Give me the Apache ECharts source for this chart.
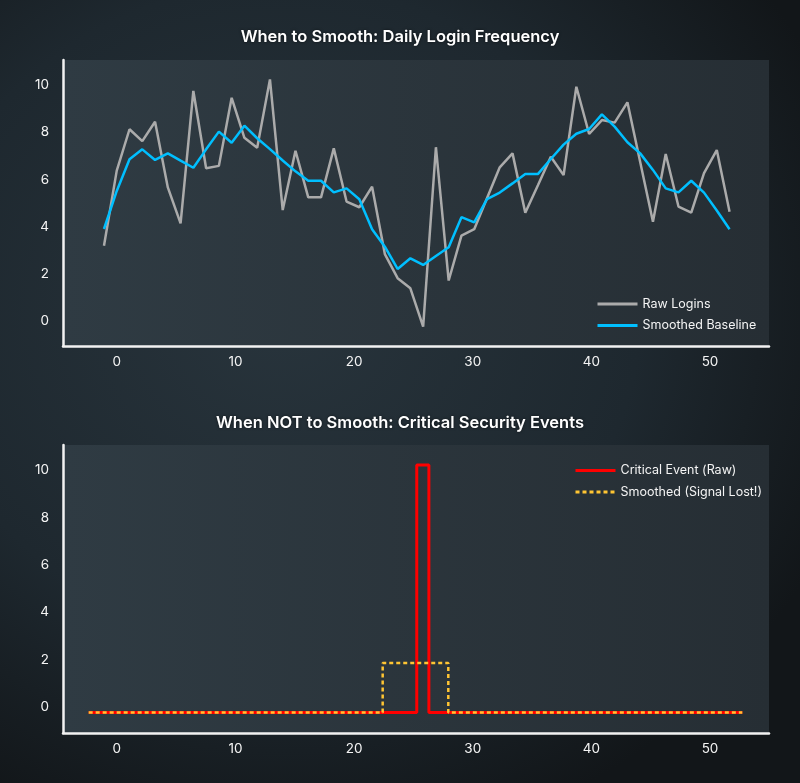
<!DOCTYPE html>
<html>
<head>
<meta http-equiv="Content-Type" content="text/html; charset=utf-8" />
<title>when to smooth</title>
<script type="text/javascript" src="https://cdn.jsdelivr.net/npm/echarts@6/dist/echarts.min.js"></script>
<style>
html, body { margin: 0; padding: 0; }
body {
    width: 800px; height: 783px; overflow: hidden;
    background: radial-gradient(ellipse 75% 70% at 35% 40%, #28343c 0%, #1e282f 60%, #121619 100%);
}
#main { width: 800px; height: 783px; }
</style>
</head>
<body>
<div id="main"></div>
<script type="text/javascript">
// daily logins, one value per day (day 0..49)
var rawLogins = [
    3.20, 6.38, 8.13, 7.63, 8.45, 5.67, 4.15, 9.75, 6.48, 6.58,
    9.46, 7.77, 7.35, 10.24, 4.71, 7.22, 5.25, 5.25, 7.32, 5.07,
    4.83, 5.70, 2.85, 1.83, 1.40, -0.22, 7.37, 1.73, 3.63, 3.90,
    5.21, 6.52, 7.11, 4.60, 5.77, 6.97, 6.19, 9.93, 7.93, 8.52,
    8.41, 9.27, 6.74, 4.22, 7.08, 4.86, 4.60, 6.27, 7.25, 4.64
];
var smoothedBaseline = [
    3.91, 5.52, 6.86, 7.28, 6.83, 7.11, 6.80, 6.50, 7.28, 8.03,
    7.56, 8.28, 7.75, 7.29, 6.81, 6.35, 5.95, 5.95, 5.46, 5.63,
    5.17, 3.90, 3.16, 2.22, 2.67, 2.39, 2.77, 3.14, 4.41, 4.19,
    5.17, 5.45, 5.84, 6.24, 6.24, 6.87, 7.48, 7.94, 8.14, 8.76,
    8.24, 7.58, 7.11, 6.41, 5.63, 5.46, 5.95, 5.45, 4.69, 3.90
];

// security events: break points of the step lines (day, value)
var eventDays = [-1.2, 24.5, 25.45, 50.0];
var eventRaw = [-0.24, 10.22, -0.24, -0.24];
var smoothDays = [-1.2, 21.83, 26.97, 50.0];
var eventSmoothed = [-0.24, 1.85, -0.24, -0.24];

var xTickStep = 10;
var yTickStep = 2;

function pairs(xs, ys) {
    return ys.map(function (v, i) { return [xs[i], v]; });
}
var days = rawLogins.map(function (v, i) { return i; });

var txt = '#f4f4f4';
var fontFam = 'Inter, "Noto Sans", sans-serif';

// labels only on round ticks, the axis ends are not ticks
function tickFmt(step) {
    return function (v) {
        var r = Math.round(v / step) * step;
        return Math.abs(v - r) < 1e-6 ? String(r) : '';
    };
}

function labelAxis(grid) {
    return {
        gridIndex: grid, type: 'value', min: -4.53, max: 54.97, splitNumber: 5,
        axisLine: { show: true, onZero: false, lineStyle: { color: '#f2f2f2', width: 2.5 } },
        axisTick: { show: false },
        splitLine: { show: false },
        axisLabel: {
            color: txt, fontSize: 13.5, fontFamily: fontFam, margin: 9,
            showMinLabel: false, showMaxLabel: false, formatter: tickFmt(xTickStep)
        }
    };
}
// day axis the lines are drawn on (not shown)
function dayAxis(grid) {
    return { gridIndex: grid, type: 'value', min: -3.21, max: 52.09, show: false };
}
function valAxis(grid, mn, mx) {
    return {
        gridIndex: grid, type: 'value', min: mn, max: mx, splitNumber: 6,
        axisLine: { show: true, onZero: false, lineStyle: { color: '#f2f2f2', width: 2.5 } },
        axisTick: { show: false },
        splitLine: { show: false },
        axisLabel: {
            color: txt, fontSize: 13.5, fontFamily: fontFam, margin: 14,
            showMinLabel: false, showMaxLabel: false, formatter: tickFmt(yTickStep)
        }
    };
}

var plotBg = new echarts.graphic.LinearGradient(0, 0, 1, 0, [
    { offset: 0, color: '#2f3b43' },
    { offset: 1, color: '#262e34' }
]);

var titleStyle = {
    color: '#ffffff', fontSize: 16.5, fontWeight: 600, fontFamily: fontFam,
    textShadowColor: 'rgba(0,0,0,0.6)', textShadowBlur: 3
};

var myChart = echarts.init(document.getElementById('main'));
var option = {
    backgroundColor: 'transparent',
    animation: false,
    title: [
        { text: 'When to Smooth: Daily Login Frequency', left: 'center', top: 29, padding: 0, textStyle: titleStyle },
        { text: 'When NOT to Smooth: Critical Security Events', left: 'center', top: 415, padding: 0, textStyle: titleStyle }
    ],
    legend: [
        {
            data: ['Raw Logins', 'Smoothed Baseline'],
            orient: 'vertical', left: 596, top: 297.5, padding: 0,
            itemWidth: 40, itemHeight: 14, itemGap: 8.5,
            itemStyle: { opacity: 0 }, lineStyle: { width: 3 },
            textStyle: { color: txt, fontSize: 12.5, fontFamily: fontFam }
        },
        {
            data: ['Critical Event (Raw)', 'Smoothed (Signal Lost!)'],
            orient: 'vertical', left: 574, top: 464, padding: 0,
            itemWidth: 40, itemHeight: 14, itemGap: 8.5,
            itemStyle: { opacity: 0 }, lineStyle: { width: 3 },
            textStyle: { color: txt, fontSize: 12.5, fontFamily: fontFam }
        }
    ],
    grid: [
        { left: 63, right: 31, top: 60, height: 286, show: true, borderWidth: 0, backgroundColor: plotBg },
        { left: 63, right: 31, top: 445, height: 288, show: true, borderWidth: 0, backgroundColor: plotBg }
    ],
    xAxis: [labelAxis(0), dayAxis(0), labelAxis(1), dayAxis(1)],
    yAxis: [valAxis(0, -1.04, 11.06), valAxis(1, -1.11, 11.07)],
    series: [
        {
            name: 'Raw Logins', type: 'line', xAxisIndex: 1, yAxisIndex: 0,
            data: pairs(days, rawLogins), showSymbol: false, symbol: 'none',
            lineStyle: { color: '#ababab', width: 2.5 }, itemStyle: { color: '#ababab' }
        },
        {
            name: 'Smoothed Baseline', type: 'line', xAxisIndex: 1, yAxisIndex: 0,
            data: pairs(days, smoothedBaseline), showSymbol: false, symbol: 'none',
            lineStyle: { color: '#00bfff', width: 2.5 }, itemStyle: { color: '#00bfff' }
        },
        {
            name: 'Critical Event (Raw)', type: 'line', step: 'end', xAxisIndex: 3, yAxisIndex: 1,
            data: pairs(eventDays, eventRaw), showSymbol: false, symbol: 'none',
            lineStyle: { color: '#ff0000', width: 3 }, itemStyle: { color: '#ff0000' }
        },
        {
            name: 'Smoothed (Signal Lost!)', type: 'line', step: 'end', xAxisIndex: 3, yAxisIndex: 1,
            data: pairs(smoothDays, eventSmoothed), showSymbol: false, symbol: 'none',
            lineStyle: { color: '#ffc533', width: 2.5, type: [4, 3] }, itemStyle: { color: '#ffc533' }
        }
    ]
};
myChart.setOption(option);
</script>
</body>
</html>
